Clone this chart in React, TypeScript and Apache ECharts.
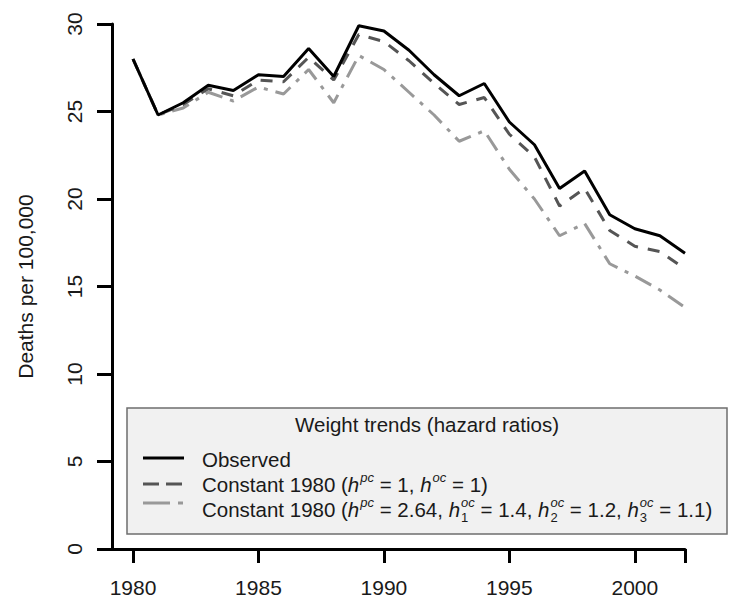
import React, { useEffect, useRef } from "react";
import * as echarts from "echarts";

const years = [1980, 1981, 1982, 1983, 1984, 1985, 1986, 1987, 1988, 1989, 1990, 1991, 1992, 1993, 1994, 1995, 1996, 1997, 1998, 1999, 2000, 2001, 2002];
const observed = [28.0, 24.8, 25.5, 26.5, 26.2, 27.1, 27.0, 28.6, 27.0, 29.9, 29.6, 28.5, 27.1, 25.9, 26.6, 24.4, 23.1, 20.6, 21.6, 19.1, 18.3, 17.9, 16.9];
const constant1 = [28.0, 24.8, 25.4, 26.3, 25.9, 26.8, 26.7, 28.1, 26.8, 29.4, 29.0, 27.9, 26.6, 25.4, 25.8, 23.7, 22.4, 19.6, 20.6, 18.2, 17.3, 17.0, 16.0];
const constant264 = [28.0, 24.8, 25.2, 26.1, 25.6, 26.4, 26.0, 27.4, 25.5, 28.2, 27.4, 26.1, 24.8, 23.3, 23.9, 21.7, 20.0, 17.9, 18.6, 16.3, 15.6, 14.8, 13.8];
const xTickValues = [1980, 1985, 1990, 1995, 2000, 2002];
const xLabelValues = [1980, 1985, 1990, 1995, 2000];
const yTickLabels = [0, 5, 10, 15, 20, 25, 30];

const legendTitle = "Weight trends (hazard ratios)";
const seriesNames = ["Observed", "Constant 1980 (h^pc = 1, h^oc = 1)", "Constant 1980 (h^pc = 2.64, h1^oc = 1.4, h2^oc = 1.2, h3^oc = 1.1)"];

const FONT = '"Liberation Sans", Arial, Helvetica, sans-serif';
const TEXT = "#1a1a1a";

type Tok = { t?: string; it?: boolean; sup?: string; sub?: string };

let ctx: CanvasRenderingContext2D | null = null;
function measure(text: string, size: number, italic: boolean) {
  if (!ctx) ctx = document.createElement("canvas").getContext("2d");
  if (!ctx) return text.length * size * 0.55;
  ctx.font = `${italic ? "italic " : ""}${size}px ${FONT}`;
  return ctx.measureText(text).width;
}

function row(x0: number, yc: number, toks: Tok[], size: number): any[] {
  const els: any[] = [];
  let x = x0;
  const small = 13;
  const mk = (text: string, xx: number, yy: number, fs: number, italic: boolean) => ({
    type: "text",
    x: xx,
    y: yy,
    silent: true,
    style: { text, fontSize: fs, fontFamily: FONT, fontStyle: italic ? "italic" : "normal", fill: TEXT, align: "left", verticalAlign: "middle" },
  });
  for (const tk of toks) {
    if (tk.t !== undefined) {
      els.push(mk(tk.t, x, yc, size, !!tk.it));
      x += measure(tk.t, size, !!tk.it);
    } else {
      let w = 0;
      if (tk.sup) {
        els.push(mk(tk.sup, x + 1, yc - 7, small, true));
        w = Math.max(w, measure(tk.sup, small, true) + 1);
      }
      if (tk.sub) {
        els.push(mk(tk.sub, x + 1, yc + 8, small, false));
        w = Math.max(w, measure(tk.sub, small, false) + 1);
      }
      x += w;
    }
  }
  return els;
}

export default function App() {
  const ref = useRef<HTMLDivElement>(null);
  useEffect(() => {
    if (!ref.current) return;
    const chart = echarts.init(ref.current, null, { renderer: "svg" });
    const pxPerYear = (685 - 133) / 22;
    const xMin = 1980 - (133 - 112) / pxPerYear;
    const mkData = (vals: number[]) => years.map((y, i) => [y, vals[i]]);

    const legendFont = 20.5;
    const legendX = 202;
    const graphics: any[] = [
      { type: "rect", shape: { x: 127, y: 408, width: 600, height: 126 }, style: { fill: "#f1f1f1", stroke: "#6e6e6e", lineWidth: 1.5 }, z: 10 },
      { type: "text", x: 427, y: 424, z: 11, style: { text: legendTitle, fontSize: legendFont, fontFamily: FONT, fill: TEXT, align: "center", verticalAlign: "middle" } },
      { type: "line", z: 11, shape: { x1: 143, y1: 458, x2: 184, y2: 458 }, style: { stroke: "#000", lineWidth: 3 } },
      { type: "line", z: 11, shape: { x1: 143, y1: 484, x2: 184, y2: 484 }, style: { stroke: "#555", lineWidth: 3, lineDash: [16, 7] } },
      { type: "line", z: 11, shape: { x1: 143, y1: 503, x2: 184, y2: 503 }, style: { stroke: "#999", lineWidth: 3, lineDash: [27, 8, 5, 8] } },
    ];
    const rows: Tok[][] = [
      [{ t: "Observed" }],
      [{ t: "Constant 1980 (" }, { t: "h", it: true }, { sup: "pc" }, { t: " = 1, " }, { t: "h", it: true }, { sup: "oc" }, { t: " = 1)" }],
      [
        { t: "Constant 1980 (" }, { t: "h", it: true }, { sup: "pc" }, { t: " = 2.64, " },
        { t: "h", it: true }, { sup: "oc", sub: "1" }, { t: " = 1.4, " },
        { t: "h", it: true }, { sup: "oc", sub: "2" }, { t: " = 1.2, " },
        { t: "h", it: true }, { sup: "oc", sub: "3" }, { t: " = 1.1)" },
      ],
    ];
    const rowY = [459, 484, 509];
    rows.forEach((r, i) => {
      row(legendX, rowY[i], r, legendFont).forEach((e) => graphics.push({ ...e, z: 11 }));
    });

    chart.setOption({
      animation: false,
      backgroundColor: "#fff",
      grid: { left: 112, right: 55, top: 24, bottom: 60 },
      xAxis: {
        type: "value",
        min: xMin,
        max: 2002,
        axisLine: { show: true, lineStyle: { color: "#000", width: 3 } },
        axisTick: { show: true, length: 14, lineStyle: { color: "#000", width: 3 }, customValues: xTickValues },
        axisLabel: { show: true, customValues: xLabelValues, margin: 28, fontSize: 21, fontFamily: FONT, color: TEXT, formatter: (v: number) => String(v) },
        splitLine: { show: false },
      },
      yAxis: {
        type: "value",
        min: 0,
        max: 30,
        interval: 5,
        name: "Deaths per 100,000",
        nameLocation: "middle",
        nameRotate: 90,
        nameGap: 76,
        nameTextStyle: { fontSize: 21, fontFamily: FONT, color: TEXT },
        axisLine: { show: true, lineStyle: { color: "#000", width: 3 } },
        axisTick: { show: true, length: 15, lineStyle: { color: "#000", width: 3 } },
        axisLabel: { show: true, rotate: 90, margin: 27, fontSize: 21, fontFamily: FONT, color: TEXT, formatter: (v: number) => (yTickLabels.includes(v) ? String(v) : "") },
        splitLine: { show: false },
      },
      series: [
        { name: seriesNames[2], type: "line", data: mkData(constant264), showSymbol: false, symbol: "none", lineStyle: { color: "#999", width: 3, type: [18, 8, 4, 8] }, z: 2 },
        { name: seriesNames[1], type: "line", data: mkData(constant1), showSymbol: false, symbol: "none", lineStyle: { color: "#555", width: 3, type: [12, 10] }, z: 3 },
        { name: seriesNames[0], type: "line", data: mkData(observed), showSymbol: false, symbol: "none", lineStyle: { color: "#000", width: 3 }, z: 4 },
      ],
      graphic: graphics,
    });
    return () => chart.dispose();
  }, []);
  return <div ref={ref} style={{ position: "absolute", left: 0, top: 0, width: 740, height: 609 }} />;
}
